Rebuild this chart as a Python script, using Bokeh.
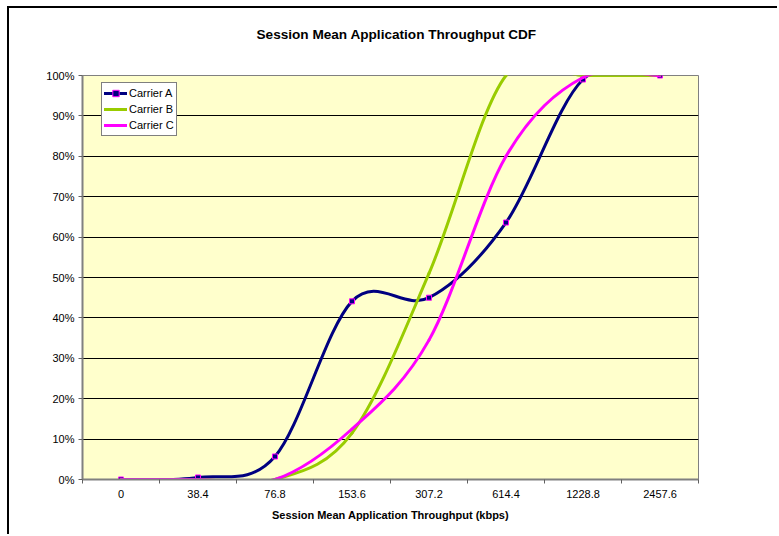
from bokeh.plotting import figure
from bokeh.models import (Range1d, FixedTicker, Title, Legend, LegendItem,
                          NumeralTickFormatter, ColumnDataSource)
from bokeh.embed import file_html
from bokeh.resources import INLINE

# ---- data ----
categories = ["0", "38.4", "76.8", "153.6", "307.2", "614.4", "1228.8", "2457.6"]
carrier_a = [0.0, 0.005, 0.057, 0.441, 0.450, 0.636, 0.990, 1.0]
carrier_b = [0.0, 0.0, 0.0, 0.115, 0.510, 1.0, 1.0, 1.0]
carrier_c = [0.0, 0.0, 0.0, 0.125, 0.345, 0.800, 0.995, 1.0]
y_ticks = [0.0, 0.1, 0.2, 0.3, 0.4, 0.5, 0.6, 0.7, 0.8, 0.9, 1.0]

FONT = "Liberation Sans"

cat_pos = [i + 0.5 for i in range(len(categories))]
cat_edges = [float(i) for i in range(len(categories) + 1)]


def smooth_source(vals):
    """Excel-style smoothed line: cubic Bezier segments (Catmull-Rom control points)."""
    pts = list(zip(cat_pos, vals))
    n = len(pts)
    d = dict(x0=[], y0=[], x1=[], y1=[], cx0=[], cy0=[], cx1=[], cy1=[])
    for i in range(n - 1):
        p0 = pts[max(i - 1, 0)]
        p1 = pts[i]
        p2 = pts[i + 1]
        p3 = pts[min(i + 2, n - 1)]
        d["x0"].append(p1[0]); d["y0"].append(p1[1])
        d["x1"].append(p2[0]); d["y1"].append(p2[1])
        d["cx0"].append(p1[0] + (p2[0] - p0[0]) / 6.0)
        d["cy0"].append(p1[1] + (p2[1] - p0[1]) / 6.0)
        d["cx1"].append(p2[0] - (p3[0] - p1[0]) / 6.0)
        d["cy1"].append(p2[1] - (p3[1] - p1[1]) / 6.0)
    return ColumnDataSource(d)


p = figure(width=770, height=528, x_range=Range1d(0, len(categories)), y_range=Range1d(0, 1),
           output_backend="svg", toolbar_location=None,
           min_border_left=73, min_border_right=81, min_border_top=67, min_border_bottom=57)
p.styles = {"margin-left": "7px", "margin-top": "6px",
            "border-left": "2px solid black", "border-top": "2px solid black"}

p.background_fill_color = "#FFFFCC"
p.border_fill_color = "white"
p.outline_line_color = "#808080"
p.outline_line_width = 1

# real title (outermost) + blank spacer title added later (nearer the plot)
p.title.text = "Session Mean Application Throughput CDF"
p.title.align = "left"
p.title.offset = 174
p.title.text_font = FONT
p.title.text_font_size = "13.6px"
p.title.text_font_style = "bold"
p.title.text_color = "black"
p.add_layout(Title(text=".", text_color="white", text_font_size="23px"), "above")

# grid
p.xgrid.visible = False
p.ygrid.ticker = FixedTicker(ticks=y_ticks)
p.ygrid.grid_line_color = "black"
p.ygrid.grid_line_width = 1

# y axis
p.yaxis.ticker = FixedTicker(ticks=y_ticks)
p.yaxis.formatter = NumeralTickFormatter(format="0%")
p.yaxis.major_tick_out = 4
p.yaxis.major_tick_in = 0
p.yaxis.minor_tick_out = 0
p.yaxis.minor_tick_in = 0
p.yaxis.major_tick_line_color = "#606060"
p.yaxis.axis_line_color = "#808080"
p.yaxis.axis_line_width = 2
p.yaxis.major_label_standoff = 4
p.yaxis.major_label_text_font = FONT
p.yaxis.major_label_text_font_size = "11px"
p.yaxis.major_label_text_color = "black"

# x axis
p.xaxis.ticker = FixedTicker(ticks=cat_pos, minor_ticks=cat_edges)
p.xaxis.major_label_overrides = {pos: lab for pos, lab in zip(cat_pos, categories)}
p.xaxis.major_tick_out = 0
p.xaxis.major_tick_in = 0
p.xaxis.minor_tick_out = 4
p.xaxis.minor_tick_in = 0
p.xaxis.minor_tick_line_color = "#606060"
p.xaxis.axis_line_color = "#808080"
p.xaxis.axis_line_width = 2
p.xaxis.major_label_standoff = 6
p.xaxis.major_label_text_font = FONT
p.xaxis.major_label_text_font_size = "11px"
p.xaxis.major_label_text_color = "black"
p.xaxis.axis_label = "Session Mean Application Throughput (kbps)"
p.xaxis.axis_label_text_font = FONT
p.xaxis.axis_label_text_font_size = "11px"
p.xaxis.axis_label_text_font_style = "bold"
p.xaxis.axis_label_text_color = "black"
p.xaxis.axis_label_standoff = 8

# series
src_a = smooth_source(carrier_a)
src_b = smooth_source(carrier_b)
src_c = smooth_source(carrier_c)
pts_a = ColumnDataSource(dict(x=cat_pos, y=carrier_a))

bz = dict(x0="x0", y0="y0", x1="x1", y1="y1", cx0="cx0", cy0="cy0", cx1="cx1", cy1="cy1")
r_a = p.bezier(source=src_a, line_color="#000080", line_width=3, line_cap="round", **bz)
m_a = p.scatter("x", "y", source=pts_a, marker="square", size=5,
                line_color="#FF00FF", fill_color="#000080", line_width=1)
r_b = p.bezier(source=src_b, line_color="#99CC00", line_width=3, line_cap="round", **bz)
r_c = p.bezier(source=src_c, line_color="#FF00FF", line_width=3, line_cap="round", **bz)

legend = Legend(items=[LegendItem(label="Carrier A", renderers=[r_a, m_a]),
                       LegendItem(label="Carrier B", renderers=[r_b]),
                       LegendItem(label="Carrier C", renderers=[r_c])],
                location=(19, 343))
legend.border_line_color = "black"
legend.border_line_width = 1
legend.background_fill_color = "white"
legend.background_fill_alpha = 1
legend.label_text_font = FONT
legend.label_text_font_size = "11px"
legend.label_text_color = "black"
legend.glyph_width = 23
legend.glyph_height = 16
legend.label_height = 16
legend.spacing = 0
legend.padding = 2
legend.margin = 0
legend.label_standoff = 2
p.add_layout(legend)

open("out.html", "w").write(file_html(p, INLINE))
